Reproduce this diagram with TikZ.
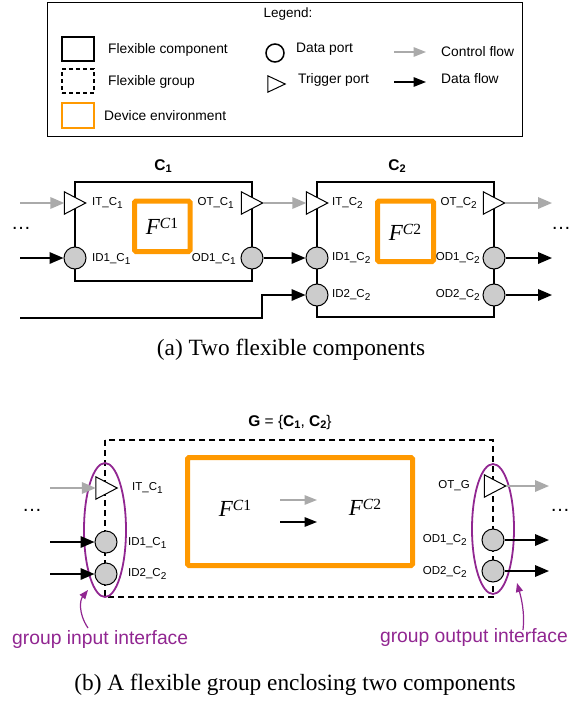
\documentclass[tikz,border=0pt]{standalone}
\usepackage{fontspec}
\setmainfont{Liberation Sans}
\newfontfamily\capserif{Liberation Serif}
\usetikzlibrary{arrows.meta,shapes.geometric}
\definecolor{flowgray}{RGB}{170,170,170}
\definecolor{portgray}{RGB}{204,204,204}
\definecolor{envorange}{RGB}{255,153,0}
\definecolor{ifpurple}{RGB}{145,38,145}
\newcommand\fs[1]{\fontsize{#1}{#1}\selectfont}
\newcommand\FC[1]{{\capserif\fs{23}\itshape F\raisebox{6pt}{\fs{15.5}\itshape C\upshape #1}}}
\newcommand\psub[1]{\raisebox{-2.5pt}{\fs{10}#1}}
\newcommand\tsub[1]{\raisebox{-2.5pt}{\fs{11}\bfseries #1}}
\newcommand\trigport[4]{%
  \node[#4] (#1) at (#2,#3) {};
  \draw[portline] (#1.north west) -- (#1.east) -- (#1.south west) -- cycle;}
\tikzset{
  comp/.style={draw, line width=1.8pt, rectangle, inner sep=0pt},
  gbox/.style={draw, line width=1.8pt, dash pattern=on 6pt off 4pt},
  env/.style={draw=envorange, line width=5pt, rounded corners=1.5pt},
  dport/.style={circle, draw, fill=portgray, line width=1pt, minimum size=22pt, inner sep=0pt},
  tport/.style={rectangle, minimum width=21pt, minimum height=22pt, inner sep=0pt},
  ltport/.style={rectangle, minimum width=17pt, minimum height=16pt, inner sep=0pt},
  portline/.style={draw, fill=white, line width=1pt, line join=miter},
  cflow/.style={draw=flowgray, line width=1.8pt, -{Triangle[length=14pt,width=11.5pt]}},
  dflow/.style={draw=black, line width=1.8pt, -{Triangle[length=14pt,width=11.5pt]}},
  lcflow/.style={draw=flowgray, line width=1.6pt, -{Triangle[length=12.5pt,width=9.5pt]}},
  ldflow/.style={draw=black, line width=1.6pt, -{Triangle[length=12.5pt,width=9.5pt]}},
  plab/.style={font=\fs{11.5}, inner sep=0pt},
  ltext/.style={font=\fs{13.8}, inner sep=0pt, anchor=west},
  ttl/.style={font=\fs{15.5}, inner sep=0pt},
  captext/.style={font=\capserif\fs{23.3}, inner sep=0pt},
  dots/.style={font=\fs{20}, inner sep=0pt},
  iface/.style={ellipse, draw=ifpurple, line width=1.8pt, inner sep=0pt},
  ifarrow/.style={draw=ifpurple, line width=1.2pt, -{Triangle[length=9pt,width=7pt]}},
  iftext/.style={font=\fs{19.3}, text=ifpurple, inner sep=0pt},
}
\begin{document}
\begin{tikzpicture}[x=1pt, y=-1pt]
\useasboundingbox (0,0) rectangle (579,704);

% ---------------- Legend ----------------
\node[draw, line width=0.8pt, minimum width=475pt, minimum height=134pt, inner sep=0pt] (legend) at (284.5,69) {};
\node[font=\fs{13.5}, inner sep=0pt] (legtitle) at (288,14) {Legend:};
\node[comp, minimum width=32pt, minimum height=24pt] (lcomp) at (78,49) {};
\node[ltext] (lcompt) at (108,50) {Flexible component};
\node[draw, line width=1.5pt, dash pattern=on 4pt off 3pt, minimum width=32pt, minimum height=24pt, inner sep=0pt] (lgrp) at (78,81) {};
\node[ltext] (lgrpt) at (108,82) {Flexible group};
\node[draw=envorange, line width=2pt, minimum width=32pt, minimum height=25pt, inner sep=0pt] (lenv) at (78,115.5) {};
\node[ltext] (lenvt) at (104,116) {Device environment};
\node[circle, draw, line width=1.5pt, minimum size=18pt, inner sep=0pt] (ldp) at (275,53) {};
\node[ltext] (ldpt) at (296,49) {Data port};
\trigport{ltp}{276.5}{84}{ltport}
\node[ltext] (ltpt) at (298,80) {Trigger port};
\coordinate (lc0) at (394,52); \coordinate (lc1) at (426,52);
\draw[lcflow] (lc0) -- (lc1);
\node[ltext] (lcft) at (441,52) {Control flow};
\coordinate (ld0) at (394,82); \coordinate (ld1) at (426,82);
\draw[ldflow] (ld0) -- (ld1);
\node[ltext] (ldft) at (441,79) {Data flow};

% ---------------- (a) ----------------
\node[comp, minimum width=177pt, minimum height=99pt] (c1) at (163.5,231.5) {};
\node[comp, minimum width=177pt, minimum height=135pt] (c2) at (405.5,249.5) {};
\node[ttl] (c1t) at (163,166) {\textbf{C}\tsub{1}};
\node[ttl] (c2t) at (397,166) {\textbf{C}\tsub{2}};

\draw[env] (134.5,201) rectangle (190,251.5);
\node[inner sep=0pt] (f1) at (162,226) {\FC{1}};
\draw[env] (377.5,201) rectangle (433.5,261.5);
\node[inner sep=0pt] (f2) at (405,232) {\FC{2}};

\trigport{it1}{75}{203}{tport}
\trigport{ot1}{252}{203}{tport}
\node[dport] (id1) at (75,258) {};
\node[dport] (od1) at (252,258) {};
\trigport{it2}{317}{203}{tport}
\trigport{ot2}{494}{203}{tport}
\node[dport] (id1b) at (317,258) {};
\node[dport] (id2b) at (317,295) {};
\node[dport] (od1b) at (494,258) {};
\node[dport] (od2b) at (494,295) {};

\node[plab, anchor=west] (it1t) at (92,203) {IT\_C\psub{1}};
\node[plab, anchor=west] (id1t) at (92,259) {ID1\_C\psub{1}};
\node[plab, anchor=east] (ot1t) at (234,203) {OT\_C\psub{1}};
\node[plab, anchor=east] (od1t) at (236,259) {OD1\_C\psub{1}};
\node[plab, anchor=west] (it2t) at (332,203) {IT\_C\psub{2}};
\node[plab, anchor=west] (id1bt) at (332,258) {ID1\_C\psub{2}};
\node[plab, anchor=west] (id2bt) at (332,295) {ID2\_C\psub{2}};
\node[plab, anchor=east] (ot2t) at (477,203) {OT\_C\psub{2}};
\node[plab, anchor=east] (od1bt) at (480,258) {OD1\_C\psub{2}};
\node[plab, anchor=east] (od2bt) at (480,295) {OD2\_C\psub{2}};

\coordinate (ain1) at (20,203);
\coordinate (ain2) at (20,258);
\coordinate (ain3) at (20,318);
\coordinate (astep) at (262,318);
\coordinate (aout1) at (552,203);
\coordinate (aout2) at (552,258);
\coordinate (aout3) at (552,295);
\draw[cflow] (ain1) -- (it1.west);
\draw[dflow] (ain2) -- (id1.west);
\draw[cflow] (ot1.east) -- (it2.west);
\draw[dflow] (od1.east) -- (id1b.west);
\draw[dflow] (ain3) -- (astep) |- (id2b.west);
\draw[cflow] (ot2.east) -- (aout1);
\draw[dflow] (od1b.east) -- (aout2);
\draw[dflow] (od2b.east) -- (aout3);
\node[dots] (adl) at (21,228) {\dots};
\node[dots] (adr) at (561,228) {\dots};

\node[captext] (capa) at (291,350) {(a) Two flexible components};

% ---------------- (b) ----------------
\node[ttl] (gt) at (290,422) {\textbf{G} = \{\textbf{C}\tsub{1}, \textbf{C}\tsub{2}\}};
\draw[gbox] (105,440) rectangle (493,597);
\draw[env] (187.5,457.5) rectangle (412.5,565.5);
\node[inner sep=0pt] (gf1) at (235,508) {\FC{1}};
\node[inner sep=0pt] (gf2) at (365,507) {\FC{2}};
\coordinate (gc0) at (280,500); \coordinate (gc1) at (317,500);
\coordinate (gd0) at (280,522); \coordinate (gd1) at (317,522);
\draw[lcflow] (gc0) -- (gc1);
\draw[ldflow] (gd0) -- (gd1);

\node[iface, minimum width=42pt, minimum height=134pt] (gin) at (105,530) {};
\node[iface, minimum width=42pt, minimum height=130pt] (gout) at (493,529) {};

\trigport{git}{106.5}{488}{tport}
\node[dport] (gid1) at (106,542) {};
\node[dport] (gid2) at (106,574) {};
\trigport{got}{495}{486}{tport}
\node[dport] (god1) at (493,540) {};
\node[dport] (god2) at (493,571) {};

\node[plab, anchor=west] (gitt) at (132,488) {IT\_C\psub{1}};
\node[plab, anchor=west] (gid1t) at (128,543) {ID1\_C\psub{1}};
\node[plab, anchor=west] (gid2t) at (128,574) {ID2\_C\psub{2}};
\node[plab, anchor=east] (gott) at (470,486) {OT\_G};
\node[plab, anchor=east] (god1t) at (467,540) {OD1\_C\psub{2}};
\node[plab, anchor=east] (god2t) at (467,572) {OD2\_C\psub{2}};

\coordinate (bin1) at (50,488);
\coordinate (bin2) at (50,542);
\coordinate (bin3) at (50,574);
\coordinate (bout1) at (549,486);
\coordinate (bout2) at (549,540);
\coordinate (bout3) at (549,571);
\draw[cflow] (bin1) -- (git.west);
\draw[dflow] (bin2) -- (gid1.west);
\draw[dflow] (bin3) -- (gid2.west);
\draw[cflow] (got.east) -- (bout1);
\draw[dflow] (god1.east) -- (bout2);
\draw[dflow] (god2.east) -- (bout3);
\node[dots] (bdl) at (32,510) {\dots};
\node[dots] (bdr) at (560,510) {\dots};

\node[iftext, anchor=west] (gint) at (12,640) {group input interface};
\node[iftext, anchor=east] (goutt) at (568,638) {group output interface};
\coordinate (pa0) at (88,628); \coordinate (pa1) at (88,590);
\coordinate (pb0) at (523,630); \coordinate (pb1) at (517,583);
\draw[ifarrow] (pa0) .. controls (78,613) and (80,600) .. (pa1);
\draw[ifarrow] (pb0) .. controls (525,612) and (521,597) .. (pb1);

\node[captext] (capb) at (295,685) {(b) A flexible group enclosing two components};
\end{tikzpicture}
\end{document}
